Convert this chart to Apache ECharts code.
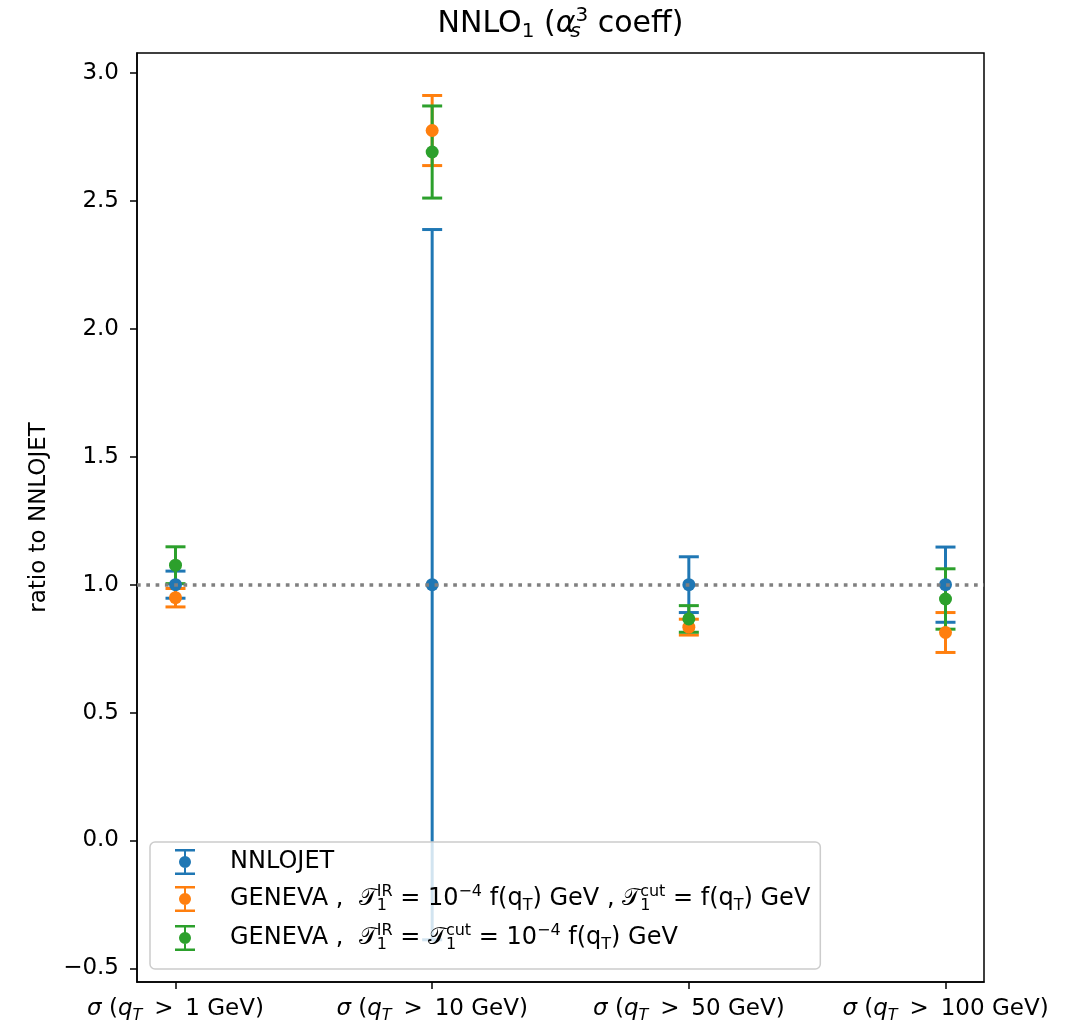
<!DOCTYPE html>
<html><head><meta charset="utf-8">
<script src="https://cdn.jsdelivr.net/npm/echarts@6/dist/echarts.min.js"></script>
<style>html,body{margin:0;padding:0;background:#fff}#c{width:1075px;height:1025px}</style>
</head><body><div id="c"></div>
<script>
// ---- data ----
const categories = ['1', '10', '50', '100'];
const yTicks = [-0.5, 0, 0.5, 1.0, 1.5, 2.0, 2.5, 3.0];
const referenceLine = 1.0;
const nnlojetValues = [1.0, 1.0, 1.0, 1.0];
const nnlojetErrors = [0.053, 1.388, 0.109, 0.147];
const genevaAValues = [0.949, 2.775, 0.834, 0.813];
const genevaAErrors = [0.036, 0.137, 0.031, 0.078];
const genevaBValues = [1.076, 2.691, 0.866, 0.944];
const genevaBErrors = [0.072, 0.180, 0.052, 0.118];

const FONT = 'DejaVu Sans';
const FS = 23;
const LH = 30;
const CAL = '\u{1D4AF}';

function richSet(fs, lh) {
  const sub = Math.round(fs * 0.68);
  const base = {fontFamily: FONT, fontWeight: 'normal', color: '#000'};
  return {
    n: {...base, fontSize: fs, lineHeight: lh},
    i: {...base, fontSize: fs, lineHeight: lh, fontStyle: 'italic'},
    c: {...base, fontFamily: 'DejaVu Serif, DejaVu Sans, serif', fontSize: fs, lineHeight: lh},
    s: {...base, fontSize: sub, lineHeight: sub, verticalAlign: 'bottom'},
    si: {...base, fontSize: sub, lineHeight: sub, verticalAlign: 'bottom', fontStyle: 'italic'},
    s0: {...base, fontSize: sub, lineHeight: sub, verticalAlign: 'bottom', width: 0},
    si0: {...base, fontSize: sub, lineHeight: sub, verticalAlign: 'bottom', fontStyle: 'italic', width: 0},
    p: {...base, fontSize: sub, lineHeight: sub, verticalAlign: 'top'},
    gap: {width: 30, lineHeight: lh}
  };
}

const T1 = (sup) => `{c|${CAL}}{s0|1}{p|${sup}}`;
const fq = '{n|f(q}{s|T}{n|) GeV}';
const legendLabels = {
  'NNLOJET': '{gap|}{n|NNLOJET}',
  'GENEVA A': `{gap|}{n|GENEVA ,  }${T1('IR')}{n| = 10}{p|\u22124}{n| }${fq}{n| , }${T1('cut')}{n| = }${fq}`,
  'GENEVA B': `{gap|}{n|GENEVA ,  }${T1('IR')}{n| = }${T1('cut')}{n| = 10}{p|\u22124}{n| }${fq}`
};
const colors = {'NNLOJET': '#1f77b4', 'GENEVA A': '#ff7f0e', 'GENEVA B': '#2ca02c'};

function errSeries(name, vals, errs) {
  const color = colors[name];
  return {
    name, type: 'custom', z: 3, silent: true,
    data: vals.map((v, i) => [i, v, v - errs[i], v + errs[i]]),
    encode: {x: 0, y: [1, 2, 3]},
    renderItem(params, api) {
      const x = api.value(0);
      const lo = api.coord([x, api.value(2)]);
      const hi = api.coord([x, api.value(3)]);
      const hw = 10;
      const style = {stroke: color, lineWidth: 3, fill: null};
      return {type: 'group', children: [
        {type: 'line', shape: {x1: lo[0], y1: lo[1], x2: hi[0], y2: hi[1]}, style},
        {type: 'line', shape: {x1: lo[0] - hw, y1: lo[1], x2: lo[0] + hw, y2: lo[1]}, style},
        {type: 'line', shape: {x1: hi[0] - hw, y1: hi[1], x2: hi[0] + hw, y2: hi[1]}, style}
      ]};
    }
  };
}
function markerSeries(name, vals) {
  return {
    name, type: 'scatter', z: 3, silent: true,
    symbol: 'circle', symbolSize: 13,
    itemStyle: {color: colors[name], opacity: 1},
    data: vals.map((v, i) => [i, v])
  };
}

const ICON = 'path://M0,0H20V2.5H0Z M9,0H11V26H9Z M4,13A6,6,0,1,1,16,13A6,6,0,1,1,4,13Z M0,23.5H20V26H0Z';

const chart = echarts.init(document.getElementById('c'), null, {renderer: 'canvas'});
chart.setOption({
  animation: false,
  backgroundColor: '#fff',
  title: {
    text: '{n|NNLO}{s|1}{n| (}{i|\u03B1}{si0|s}{p|3}{n| coeff)}',
    left: 560.5, textAlign: 'center', top: 6, padding: 0,
    textStyle: {fontWeight: 'normal', rich: richSet(30, 36)}
  },
  grid: {left: 137, right: 91, top: 53, bottom: 43, containLabel: false, outerBoundsMode: 'none',
         show: true, borderColor: '#000', borderWidth: 1.5, backgroundColor: 'transparent'},
  xAxis: {
    type: 'value', min: -0.15, max: 3.15,
    splitLine: {show: false},
    axisLine: {show: true, onZero: false, lineStyle: {color: '#000', width: 1.5}},
    axisTick: {show: true, length: 7, lineStyle: {color: '#000', width: 1.5}, customValues: [0, 1, 2, 3]},
    axisLabel: {
      margin: 12, customValues: [0, 1, 2, 3],
      formatter: (v) => `{i|\u03C3}{n| (}{i|q}{si|T}{n|\u2009 > \u2009${categories[Math.round(v)]} GeV)}`,
      rich: richSet(FS, LH)
    }
  },
  yAxis: {
    type: 'value', min: -0.553, max: 3.078,
    name: 'ratio to NNLOJET', nameLocation: 'middle', nameGap: 86,
    nameTextStyle: {fontFamily: FONT, fontSize: FS, color: '#000'},
    splitLine: {show: false},
    axisLine: {show: true, onZero: false, lineStyle: {color: '#000', width: 1.5}},
    axisTick: {show: true, length: 7, lineStyle: {color: '#000', width: 1.5}, customValues: yTicks},
    axisLabel: {
      margin: 18, customValues: yTicks, color: '#000', fontFamily: FONT, fontSize: FS,
      formatter: (v) => (v < 0 ? '\u2212' : '') + Math.abs(v).toFixed(1)
    }
  },
  legend: {
    orient: 'vertical', left: 150, top: 842,
    padding: [7, 10, 16, 25], itemGap: 9, itemWidth: 20, itemHeight: 26,
    backgroundColor: 'rgba(255,255,255,0.8)', borderColor: '#cccccc', borderWidth: 1.5, borderRadius: 5,
    selectedMode: false,
    data: Object.keys(legendLabels).map(n => ({name: n, icon: ICON, itemStyle: {color: colors[n], borderWidth: 0}})),
    formatter: (name) => legendLabels[name],
    textStyle: {rich: richSet(24, LH)}
  },
  series: [
    {
      name: 'ref', type: 'line', z: 1, data: [], silent: true,
      markLine: {
        silent: true, symbol: 'none', label: {show: false},
        lineStyle: {color: '#808080', type: [3.7, 5.6], width: 3.5},
        data: [{yAxis: referenceLine}]
      }
    },
    errSeries('NNLOJET', nnlojetValues, nnlojetErrors),
    markerSeries('NNLOJET', nnlojetValues),
    errSeries('GENEVA A', genevaAValues, genevaAErrors),
    markerSeries('GENEVA A', genevaAValues),
    errSeries('GENEVA B', genevaBValues, genevaBErrors),
    markerSeries('GENEVA B', genevaBValues)
  ]
});
</script>
</body></html>
